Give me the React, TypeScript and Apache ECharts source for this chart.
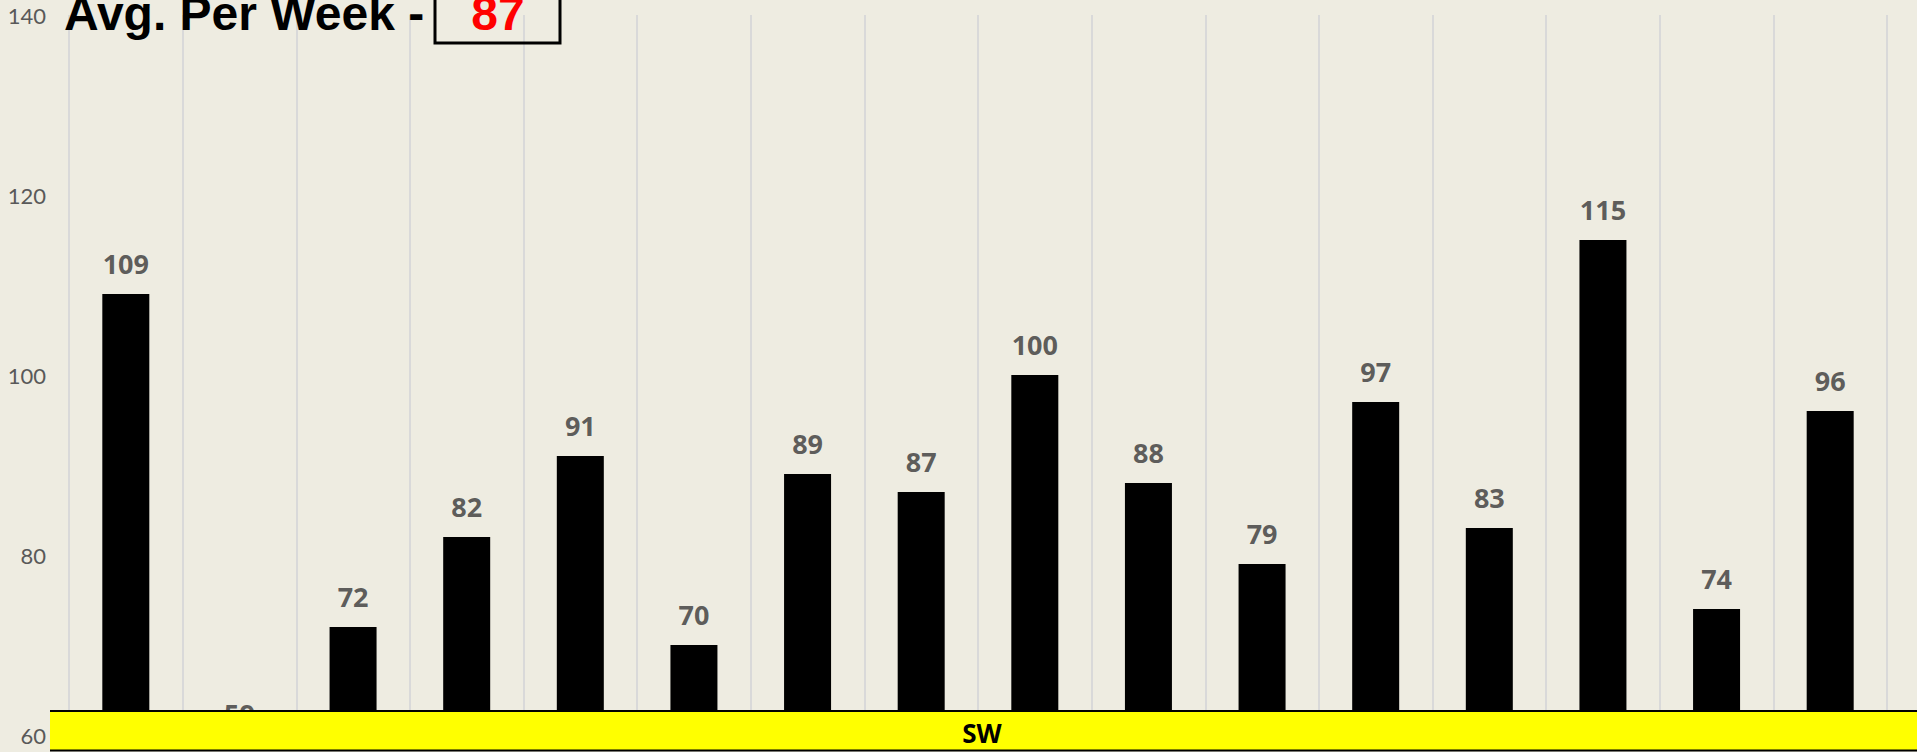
import React, { useEffect, useRef } from "react";
import * as echarts from "echarts";

const weeks = ["W1","W2","W3","W4","W5","W6","W7","W8","W9","W10","W11","W12","W13","W14","W15","W16"];
const perWeek = [109, 59, 72, 82, 91, 70, 89, 87, 100, 88, 79, 97, 83, 115, 74, 96];
const yTicks = [60, 80, 100, 120, 140];
const titleText = "Avg. Per Week -";
const avgText = "87";
const bandText = "SW";

export default function App() {
  const ref = useRef<HTMLDivElement>(null);
  useEffect(() => {
    if (!ref.current) return;
    const chart = echarts.init(ref.current, null, { renderer: "svg" });
    chart.setOption({
      animation: false,
      backgroundColor: "#EEECE1",
      grid: { left: 69, right: 30, top: 15, bottom: 17 },
      xAxis: {
        type: "category",
        data: weeks,
        boundaryGap: true,
        axisLine: { show: false },
        axisTick: { show: false },
        axisLabel: { show: false },
        splitLine: { show: true, lineStyle: { color: "#D9D9D9", width: 2 } },
      },
      yAxis: {
        type: "value",
        min: yTicks[0],
        max: yTicks[yTicks.length - 1],
        interval: 20,
        axisLine: { show: false },
        axisTick: { show: false },
        splitLine: { show: false },
        axisLabel: {
          margin: 23,
          color: "#595959",
          fontFamily: "Lato",
          fontSize: 22,
        },
      },
      series: [
        {
          type: "bar",
          data: perWeek,
          barWidth: 47,
          itemStyle: { color: "#000000" },
        },
        {
          type: "scatter",
          data: perWeek,
          symbolSize: 1,
          clip: false,
          itemStyle: { color: "rgba(0,0,0,0)" },
          label: {
            show: true,
            position: "top",
            distance: 17,
            formatter: (p: any) => String(p.value),
            color: "#363636",
            fontFamily: "Open Sans",
            fontWeight: "bold",
            fontSize: 27,
          },
          z: 3,
        },
      ],
      graphic: [
        {
          type: "text",
          left: 64,
          top: 30 - 41,
          z: 100,
          style: {
            text: titleText,
            font: "bold 48px 'Liberation Sans', Arial, sans-serif",
            fill: "#000000",
          },
        },
        {
          type: "rect",
          z: 100,
          shape: { x: 435, y: -20, width: 125, height: 63 },
          style: { fill: "none", stroke: "#000000", lineWidth: 3 },
        },
        {
          type: "text",
          x: 498,
          y: 30 - 41,
          z: 100,
          style: {
            text: avgText,
            align: "center",
            font: "bold 48px 'Liberation Sans', Arial, sans-serif",
            fill: "#FF0000",
          },
        },
        {
          type: "rect",
          z: 100,
          shape: { x: 50, y: 711, width: 1880, height: 39 },
          style: { fill: "#FFFF00" },
        },
        {
          type: "line",
          z: 101,
          shape: { x1: 50, y1: 711, x2: 1917, y2: 711 },
          style: { stroke: "#000000", lineWidth: 2 },
        },
        {
          type: "line",
          z: 101,
          shape: { x1: 50, y1: 750.5, x2: 1917, y2: 750.5 },
          style: { stroke: "#000000", lineWidth: 2 },
        },
        {
          type: "text",
          x: 982,
          y: 733,
          z: 102,
          style: {
            text: bandText,
            align: "center",
            verticalAlign: "middle",
            font: "bold 26px 'Open Sans', sans-serif",
            fill: "#000000",
          },
        },
      ],
    });
    return () => chart.dispose();
  }, []);
  return (
    <div
      ref={ref}
      style={{ position: "fixed", left: 0, top: 0, width: 1917, height: 752 }}
    />
  );
}
